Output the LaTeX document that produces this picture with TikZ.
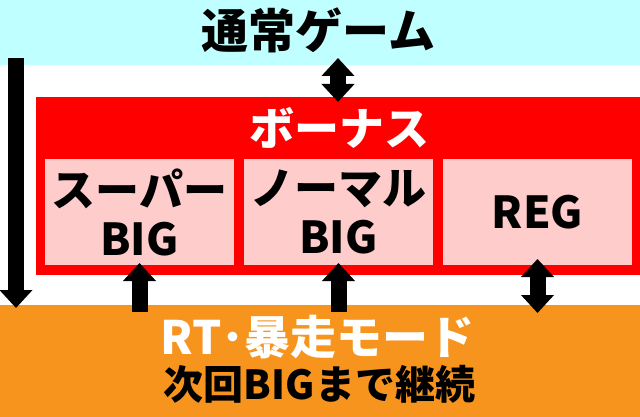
\documentclass[tikz,border=0pt]{standalone}
\usepackage{fontspec}
\setmainfont{Noto Sans CJK JP}
\usepackage{tikz}
\usetikzlibrary{arrows.meta,positioning}

\definecolor{gamecyan}{HTML}{C0FFFF}
\definecolor{bonusred}{HTML}{FF0000}
\definecolor{bigpink}{HTML}{FFCCCC}
\definecolor{rtorange}{HTML}{F7941D}

\begin{document}
\begin{tikzpicture}[x=1pt,y=-1pt,>={Triangle[length=18pt,width=32pt]},line width=16pt,inner sep=0pt,outer sep=0pt]
  \tikzstyle{band}=[rectangle,minimum width=640pt]
  \tikzstyle{bigbox}=[rectangle,fill=bigpink,minimum width=189pt,minimum height=106pt,align=center,font=\bfseries\fontsize{44}{49}\selectfont]
  \tikzstyle{title}=[font=\bfseries\fontsize{47}{47}\selectfont]

  \useasboundingbox (0,0) rectangle (640,417);

  \node[band,fill=gamecyan,minimum height=65pt]	(normal)	at (320,32.5)	{};
  \node[band,fill=rtorange,minimum height=112pt]	(rt)	at (320,361)	{};
  \node[rectangle,fill=bonusred,minimum width=604pt,minimum height=178pt]	(bonus)	at (338,186)	{};

  \node[bigbox]	(super)	at (139.5,212)	{スーパー\\BIG};
  \node[bigbox]	(normalbig)	[right=10pt of super]	{ノーマル\\BIG};
  \node[bigbox]	(reg)	[right=10pt of normalbig]	{REG};

  \node[title]	(normaltext)	at (318.5,30)	{通常ゲーム};
  \node[title,white,font=\bfseries\fontsize{45}{45}\selectfont]	(bonustext)	at (339,128)	{ボーナス};
  \node[title,white,font=\bfseries\fontsize{46}{46}\selectfont]	(rttext)	at (317.5,337.5)	{RT･暴走モード};
  \node[title,font=\bfseries\fontsize{40}{40}\selectfont]	(keeptext)	at (319.5,384.5)	{次回BIGまで継続};

  \coordinate (drop) at (16,58);

  \draw[<->,shorten <=-7pt,shorten >=-5pt]	(normal.south -| bonus.north) -- (bonus.north);
  \draw[->,shorten <=-7pt,shorten >=-2pt]	(super.south |- rt.north) -- (super.south);
  \draw[->,shorten <=-7pt,shorten >=-2pt]	(normalbig.south |- rt.north) -- (normalbig.south);
  \draw[<->,shorten <=-6pt,shorten >=-8pt]	(reg.south) -- (reg.south |- rt.north);
  \draw[->,shorten >=-3pt]	(drop) -- (drop |- rt.north);

\end{tikzpicture}
\end{document}
